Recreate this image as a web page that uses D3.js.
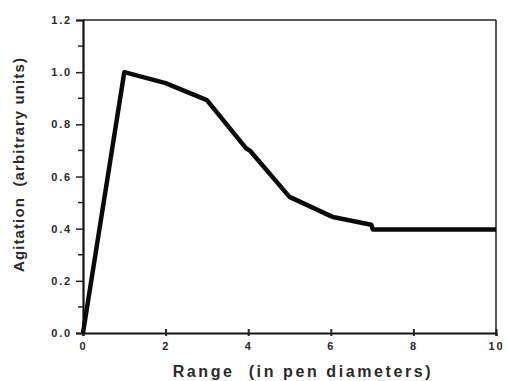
<!DOCTYPE html>
<html>
<head>
<meta charset="utf-8">
<script src="https://cdnjs.cloudflare.com/ajax/libs/d3/7.8.5/d3.min.js"></script>
<style>
  body { margin: 0; background: #fff; }
  svg text { font-family: "Liberation Sans", Arial, sans-serif; fill: #2a2a2a; }
</style>
</head>
<body>
<div id="chart"></div>
<script>
////////////////////////////////////////////////////////////////////////////////
// Data (range in pen diameters, agitation).
var range_vals     = [0, 1, 2, 3, 3.95, 4.05, 5, 5.95, 6.05, 6.98, 7.02, 10];
var agitation_vals = [0, 1.0, 0.958, 0.893, 0.708, 0.698, 0.522, 0.452, 0.445, 0.415, 0.397, 0.397];
var x_ticks = [0, 2, 4, 6, 8, 10];
var y_ticks = [0.0, 0.2, 0.4, 0.6, 0.8, 1.0, 1.2];
var y_minor = [0.1, 0.3, 0.5, 0.7, 0.9, 1.1];

var margin = {top: 20, right: 12, bottom: 48, left: 83},
  width = 508 - margin.left - margin.right,
  height = 381 - margin.top - margin.bottom;

var svg = d3.select('#chart').append('svg')
  .attr('width', 508)
  .attr('height', 381)
  .append('g')
  .attr('transform', 'translate(' + margin.left + ',' + margin.top + ')');

var xx = d3.scaleLinear().domain([0, 10]).range([0, width]);
var yy = d3.scaleLinear().domain([0, 1.2]).range([height, 0]);

// Frame: top and right thin, bottom and left heavier.
svg.append('line').attr('x1', 0).attr('x2', width).attr('y1', 0).attr('y2', 0)
  .attr('stroke', '#222').attr('stroke-width', 1.5);
svg.append('line').attr('x1', width).attr('x2', width).attr('y1', 0).attr('y2', height)
  .attr('stroke', '#222').attr('stroke-width', 1.5);

// Y axis
var yAxis = svg.append('g')
  .call(d3.axisLeft(yy).tickValues(y_ticks).tickFormat(d3.format('.1f')).tickSize(7).tickPadding(4));
yAxis.select('.domain').attr('stroke', '#111').attr('stroke-width', 2.2);
yAxis.selectAll('.tick line').attr('stroke', '#222').attr('stroke-width', 1.5);
yAxis.selectAll('.tick text')
  .style('font-size', '11px').style('font-weight', 'bold')
  .style('letter-spacing', '1.8px').attr('fill', '#444');
svg.append('g').selectAll('line').data(y_minor).enter().append('line')
  .attr('x1', -5).attr('x2', 0)
  .attr('y1', function(d) { return yy(d); })
  .attr('y2', function(d) { return yy(d); })
  .attr('stroke', '#222').attr('stroke-width', 1.5);

// X axis (ticks cross the line)
var xAxis = svg.append('g')
  .attr('transform', 'translate(0,' + height + ')')
  .call(d3.axisBottom(xx).tickValues(x_ticks).tickSize(3).tickPadding(6));
xAxis.select('.domain').attr('stroke', '#111').attr('stroke-width', 2.2);
xAxis.selectAll('.tick line').attr('y1', -4).attr('stroke', '#222').attr('stroke-width', 2);
xAxis.selectAll('.tick text')
  .style('font-size', '11px').style('font-weight', 'bold')
  .style('letter-spacing', '1.8px').attr('fill', '#444');

// Axis labels
svg.append('text')
  .attr('x', 220)
  .attr('y', height + 44)
  .style('text-anchor', 'middle')
  .style('font-size', '16px').style('font-weight', 'bold')
  .style('letter-spacing', '2.6px')
  .style('white-space', 'pre')
  .text('Range  (in pen diameters)');
svg.append('text')
  .attr('transform', 'rotate(-90)')
  .attr('x', -(height / 2) + 12)
  .attr('y', -59)
  .style('text-anchor', 'middle')
  .style('font-size', '15px').style('font-weight', 'bold')
  .style('letter-spacing', '1.1px')
  .style('white-space', 'pre')
  .text('Agitation  (arbitrary units)');

// The curve
var pts = range_vals.map(function(r, i) { return {x: r, y: agitation_vals[i]}; });
svg.append('path')
  .datum(pts)
  .attr('fill', 'none')
  .attr('stroke', '#0a0a0a')
  .attr('stroke-width', 4.5)
  .attr('stroke-linejoin', 'round')
  .attr('d', d3.line()
    .x(function(d) { return xx(d.x); })
    .y(function(d) { return yy(d.y); }));
</script>
</body>
</html>
